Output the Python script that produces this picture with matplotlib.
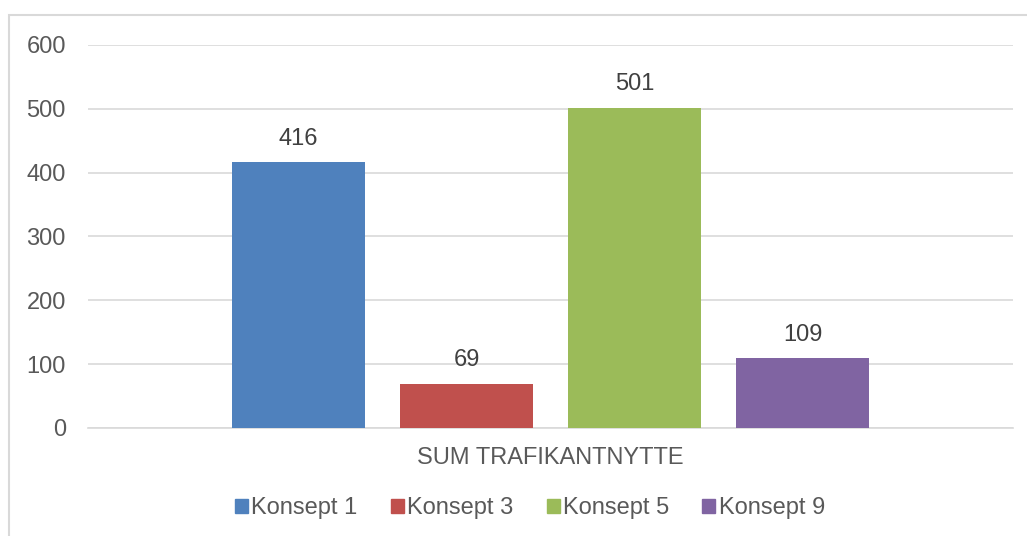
import matplotlib.pyplot as plt
from matplotlib.patches import Rectangle, Patch

categories = ['Konsept 1', 'Konsept 3', 'Konsept 5', 'Konsept 9']
values = [416, 69, 501, 109]
colors = ['#4f81bd', '#c0504d', '#9bbb59', '#8064a2']
group_label = 'SUM TRAFIKANTNYTTE'
yticks = [0, 100, 200, 300, 400, 500, 600]

plt.rcParams['font.family'] = ['Liberation Sans', 'DejaVu Sans']
FS = 17

fig = plt.figure(figsize=(10.27, 5.36), dpi=100)
# ramme rundt diagrammet
fig.patches.append(Rectangle((9 / 1027, -0.01), 1.02, 1 - 15 / 536 + 0.01,
                             transform=fig.transFigure, fill=False,
                             edgecolor='#d9d9d9', linewidth=1.5))

ax = fig.add_axes([88 / 1027, 1 - 428 / 536, 925 / 1027, (428 - 45) / 536])
pos = list(range(len(values)))
ax.bar(pos, values, width=133 / 168, color=colors, zorder=3)
for x, v in zip(pos, values):
    ax.text(x, v + 20, str(v), ha='center', va='bottom', fontsize=FS, color='#404040')

half = 925 / 168 / 2
ax.set_xlim(1.5 - half, 1.5 + half)
ax.set_ylim(0, 600)
ax.set_yticks(yticks)
ax.set_xticks([])
ax.tick_params(axis='y', length=0, labelsize=FS, labelcolor='#595959', pad=16)
ax.grid(axis='y', color='#d9d9d9', linewidth=1.2, zorder=0)
for s in ['top', 'right', 'left']:
    ax.spines[s].set_visible(False)
ax.spines['bottom'].set_color('#d9d9d9')
ax.spines['bottom'].set_linewidth(1.2)

fig.text(550 / 1027, 1 - 458 / 536, group_label, ha='center', va='center',
         fontsize=FS, color='#595959')

handles = [Patch(color=c, label=l) for c, l in zip(colors, categories)]
fig.legend(handles=handles, loc='center', bbox_to_anchor=(530 / 1027, 1 - 508 / 536),
           ncol=4, frameon=False, fontsize=FS, handlelength=0.55, handleheight=0.55,
           handletextpad=0.15, columnspacing=1.4, labelcolor='#595959')

fig.savefig('out.png', dpi=100)
